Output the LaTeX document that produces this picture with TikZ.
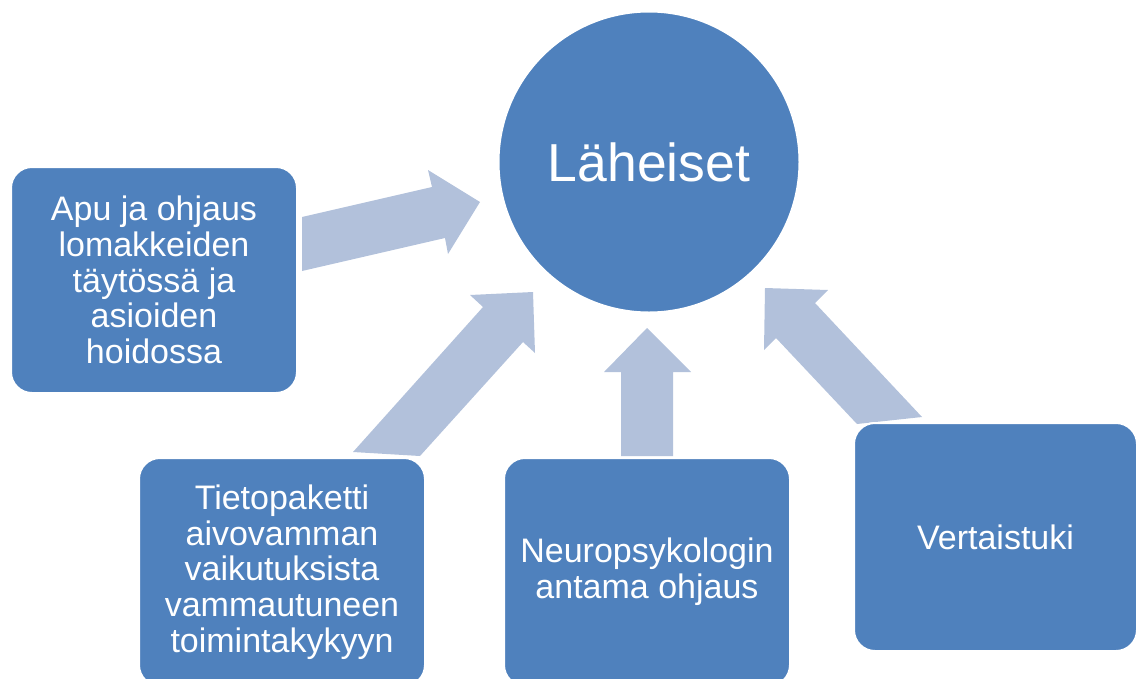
\documentclass[tikz,border=0pt]{standalone}
\usepackage{fontspec}
\setmainfont{Liberation Sans}
\definecolor{boxblue}{HTML}{4F81BD}
\definecolor{arrowblue}{HTML}{B2C1DB}
\begin{document}
\begin{tikzpicture}[x=1pt,y=-1pt,
  box/.style={rectangle, rounded corners=21pt, fill=boxblue, draw=white, line width=2pt,
    text=white, align=center, inner sep=0pt,
    font=\fontsize{34}{35.8}\selectfont},
  hub/.style={circle, fill=boxblue, draw=white, line width=2pt, text=white,
    minimum size=301pt, inner sep=0pt, font=\fontsize{53.5}{60}\selectfont},
  blockarrow/.style={fill=arrowblue, draw=none}]
\useasboundingbox (0,0) rectangle (1138,678);
% block arrows (drawn beneath the boxes)
\fill[blockarrow] (302,217) -- (432,187) -- (428,170) -- (480,202) -- (448,254) -- (445,238) -- (302,271) -- cycle;
\fill[blockarrow] (353,452) -- (483,307) -- (470,295) -- (533,292) -- (535,353) -- (523,342) -- (420,456) -- cycle;
\fill[blockarrow] (621,456) -- (621,372) -- (604,372) -- (647,328) -- (691,372) -- (673,372) -- (673,456) -- cycle;
\fill[blockarrow] (922,417) -- (815,303) -- (828,290) -- (765,288) -- (764,350) -- (776,338) -- (857,424) -- cycle;
% nodes
\node[hub] (hub) at (649,162) {Läheiset};
\node[box, minimum width=286pt, minimum height=226pt] (apu) at (154,280)
  {Apu ja ohjaus\\lomakkeiden\\täytössä ja\\asioiden\\hoidossa};
\node[box, minimum width=286pt, minimum height=228pt] (tieto) at (282,572)
  {Tietopaketti\\aivovamman\\vaikutuksista\\vammautuneen\\toimintakykyyn};
\node[box, minimum width=286pt, minimum height=228pt] (neuro) at (647,572)
  {Neuropsykologin\\antama ohjaus};
\node[box, minimum width=283pt, minimum height=228pt] (vertais) at (995.5,537)
  {Vertaistuki};
\end{tikzpicture}
\end{document}
